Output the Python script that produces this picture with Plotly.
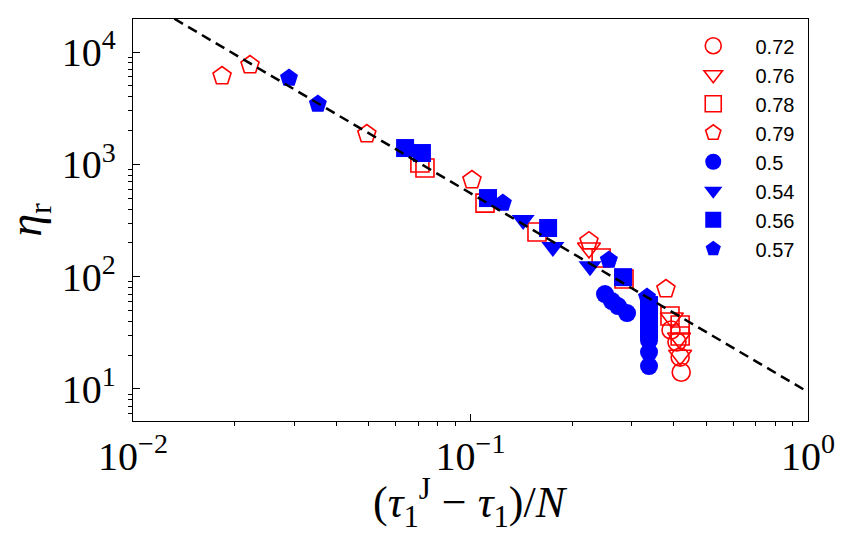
import plotly.graph_objects as go

# ---- data ----
# red, open markers
x_072 = [0.3927, 0.409, 0.418, 0.421]
y_072 = [33.5, 26.2, 19.2, 14.1]

x_076 = [0.2244, 0.395, 0.415, 0.418]
y_076 = [180, 42.8, 28.4, 20.0]

x_078 = [0.0708, 0.0733, 0.1104, 0.1574, 0.2438, 0.285, 0.390, 0.418, 0.418]
y_078 = [1027, 927, 452, 250, 146.5, 95.2, 44.6, 37.1, 29.6]

x_079 = [0.01836, 0.02222, 0.0493, 0.1010, 0.2244, 0.3794]
y_079 = [6110, 7660, 1862, 725, 207, 77.6]

# blue, filled markers
x_050 = [0.2503, 0.2624, 0.2735, 0.291, 0.338, 0.338, 0.338, 0.338]
y_050 = [70.0, 60.6, 54.7, 47.4, 36.3, 27.2, 21.3, 16.0]

x_054 = [0.1432, 0.1754, 0.226]
y_054 = [319, 183.5, 124]

x_056 = [0.0640, 0.0718, 0.1127, 0.1698, 0.2832, 0.338, 0.338, 0.338]
y_056 = [1397, 1261, 501, 271, 99.0, 55.9, 42.8, 33.5]

x_057 = [0.02899, 0.0353, 0.1247, 0.257, 0.3334]
y_057 = [5870, 3443, 452, 140.6, 65.8]

labels = ["0.72", "0.76", "0.78", "0.79", "0.5", "0.54", "0.56", "0.57"]

# power-law guide: eta = A * x^p
fit_A = 9.4
fit_p = -1.77
fit_x = [0.01, 1.0]

x_tickvals = [0.01, 0.1, 1]
x_ticktext = ["10<sup>\u22122</sup>", "10<sup>\u22121</sup>", "10<sup>0</sup>"]
y_tickvals = [10, 100, 1000, 10000]
y_ticktext = ["10<sup>1</sup>", "10<sup>2</sup>", "10<sup>3</sup>", "10<sup>4</sup>"]

x_title = "(<i>τ</i><sub>1</sub><sup>J</sup> \u2212 <i>τ</i><sub>1</sub>)/<i>N</i>"
y_title = "<i>η</i><sub>r</sub>"

RED = "#ff0000"
BLUE = "#0000ff"

series = [
    (x_072, y_072, "circle-open", 18, RED),
    (x_076, y_076, "triangle-down-open", 20, RED),
    (x_078, y_078, "square-open", 18, RED),
    (x_079, y_079, "pentagon-open", 19, RED),
    (x_050, y_050, "circle", 18, BLUE),
    (x_054, y_054, "triangle-down", 20, BLUE),
    (x_056, y_056, "square", 18, BLUE),
    (x_057, y_057, "pentagon", 19, BLUE),
]

PAD = "\u00a0" * 4

fig = go.Figure()
for (xs, ys, sym, sz, col), lab in zip(series, labels):
    if sym.endswith("open"):
        marker = dict(symbol=sym, size=sz, color=col, line=dict(color=col, width=1.6))
    else:
        marker = dict(symbol=sym, size=sz, color=col, line=dict(color=col, width=0))
    fig.add_trace(go.Scatter(x=xs, y=ys, mode="markers", name=PAD + lab, marker=marker))

fit_y = [fit_A * xv ** fit_p for xv in fit_x]
fig.add_trace(go.Scatter(x=fit_x, y=fit_y, mode="lines", showlegend=False,
                         line=dict(color="black", width=2.5, dash="10px,6px")))

serif = "Liberation Serif"
x_minor = [m * 10 ** e for e in (-2, -1) for m in range(2, 10)]
y_minor = [m * 10 ** e for e in (0, 1, 2, 3, 4) for m in range(2, 10)]

axis_common = dict(
    type="log", showgrid=False, zeroline=False, showline=True, linecolor="black",
    linewidth=1.3, mirror=True, ticks="inside", ticklen=7, tickwidth=1.3,
    tickcolor="black", tickmode="array",
    tickfont=dict(family=serif, size=40, color="black"),
)

fig.update_layout(
    width=850, height=549,
    margin=dict(l=133, r=42, t=19, b=128),
    plot_bgcolor="white", paper_bgcolor="white",
    xaxis=dict(axis_common, range=[-2, 0], tickvals=x_tickvals, ticktext=x_ticktext,
               ticklabelstandoff=0,
               minor=dict(tickmode="array", tickvals=x_minor, ticks="outside", ticklen=4,
                          tickwidth=1, tickcolor="black", showgrid=False)),
    yaxis=dict(axis_common, range=[0.715, 4.294], tickvals=y_tickvals, ticktext=y_ticktext,
               ticklabelstandoff=8,
               minor=dict(tickmode="array", tickvals=y_minor, ticks="outside", ticklen=4,
                          tickwidth=1, tickcolor="black", showgrid=False),
               title=dict(text=y_title,
                          font=dict(family=serif, size=46, color="black"), standoff=8)),
    legend=dict(x=0.830, y=0.982, xanchor="left", yanchor="top",
                bgcolor="rgba(0,0,0,0)", borderwidth=0,
                font=dict(family="Liberation Sans", size=20, color="black"),
                tracegroupgap=0),
    showlegend=True,
    annotations=[dict(text=x_title, xref="paper", yref="paper", x=0.5, y=-0.205,
                      xanchor="center", yanchor="middle", showarrow=False,
                      font=dict(family=serif, size=44, color="black"))],
)

fig.write_html("out.html")
